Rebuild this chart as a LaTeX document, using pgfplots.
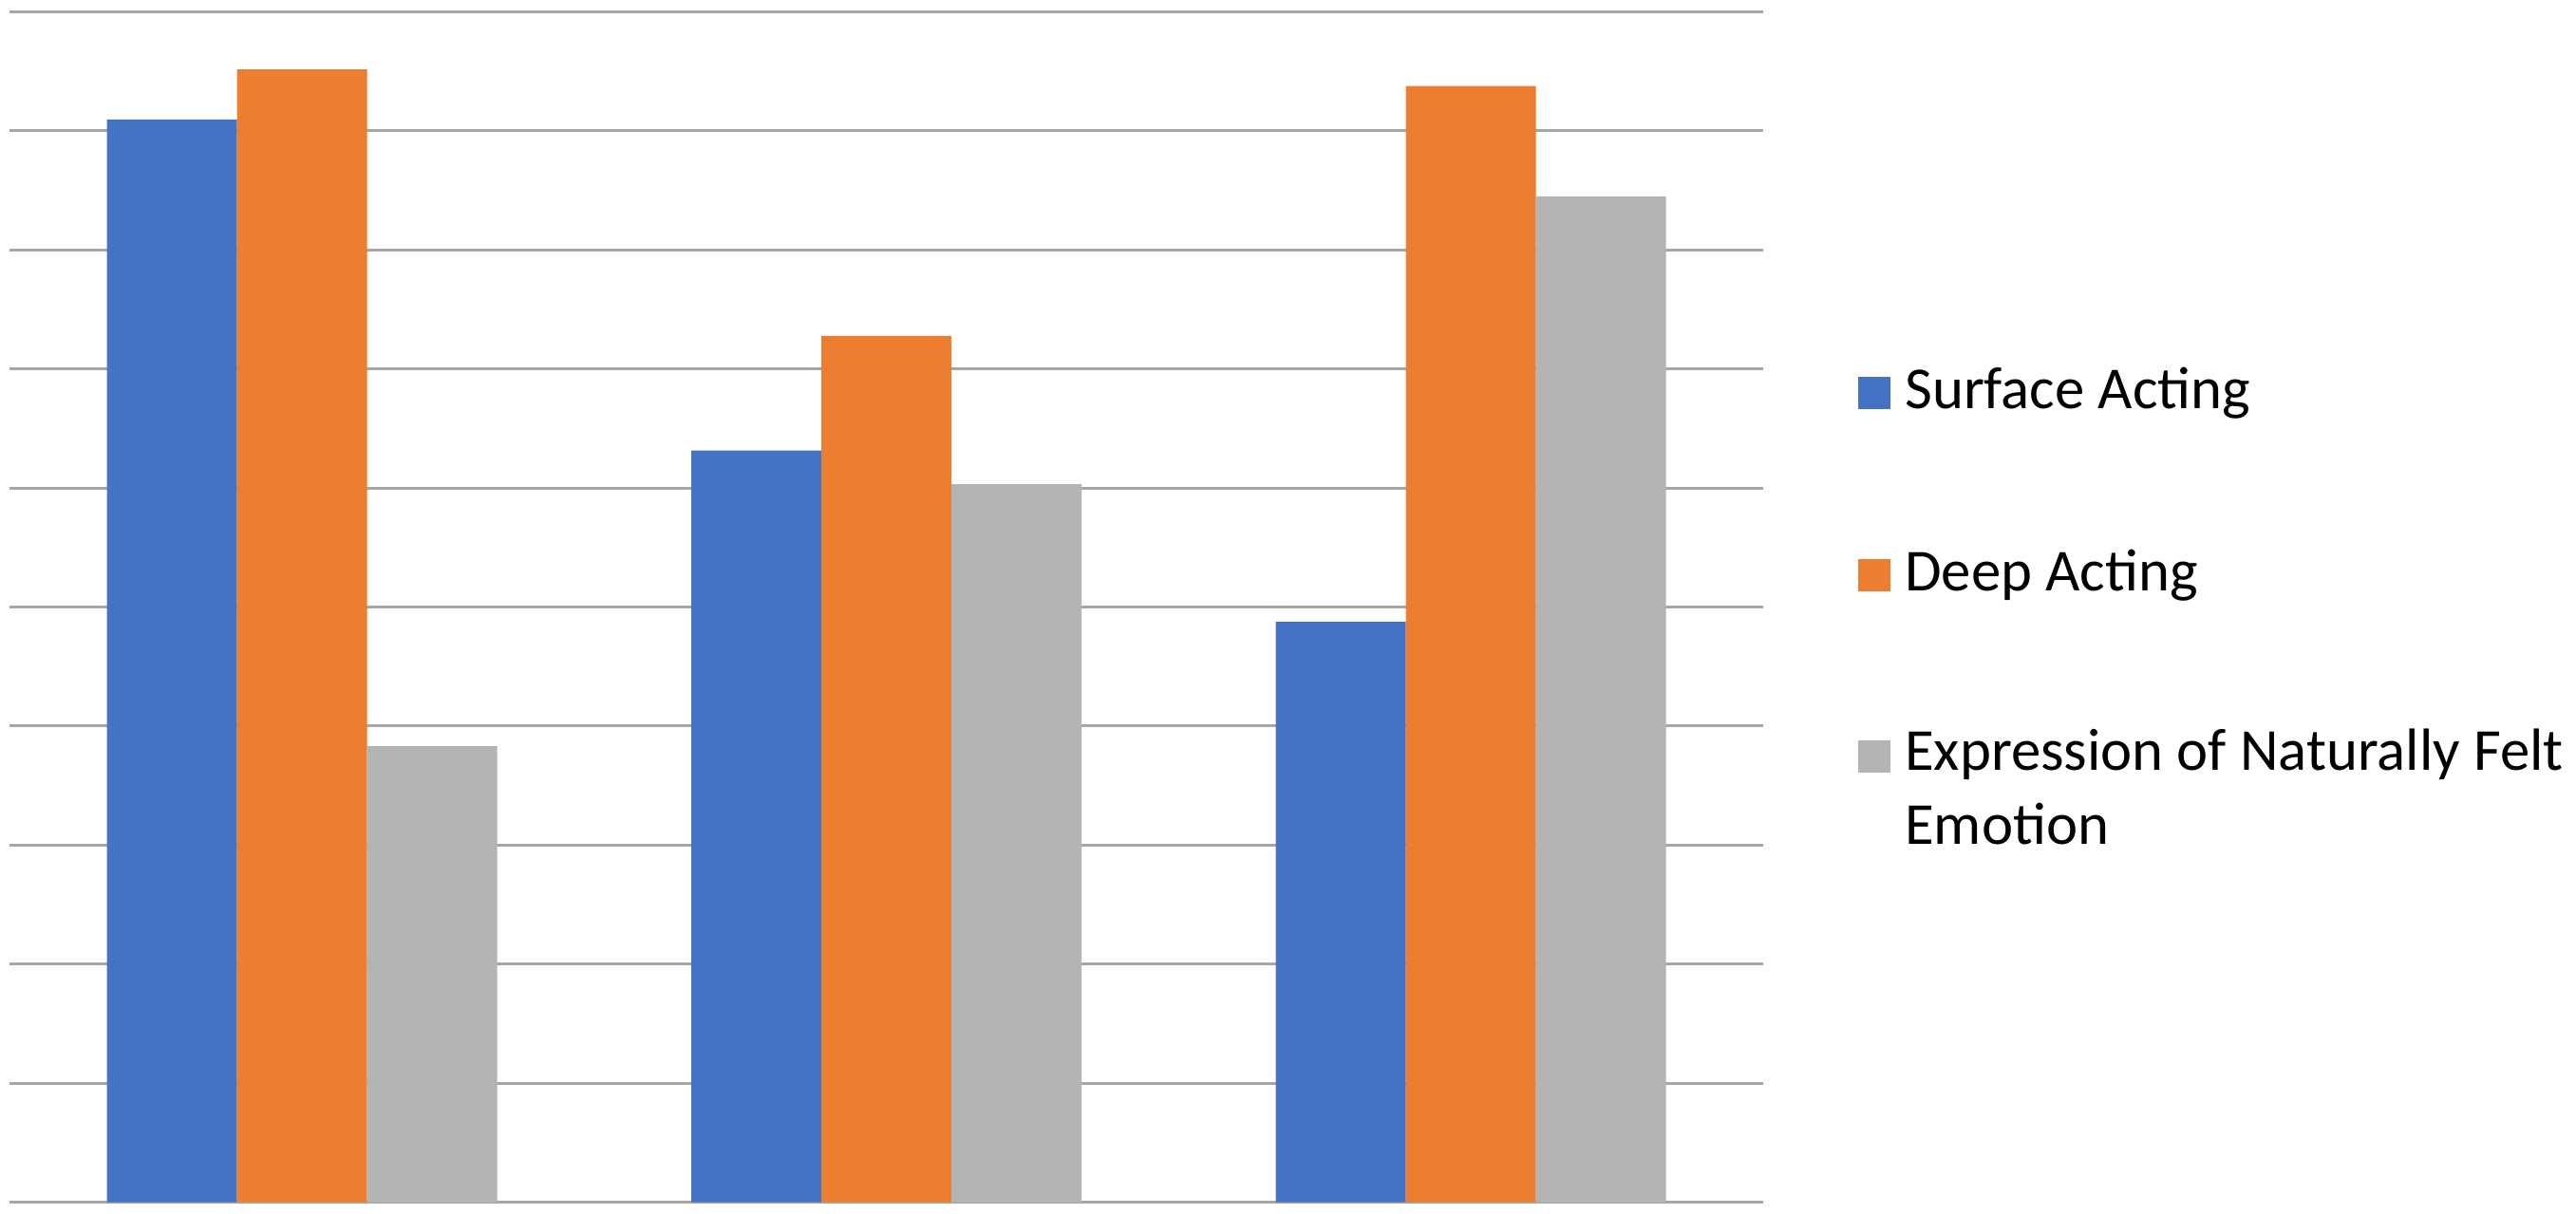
\documentclass[border=0pt]{standalone}
\usepackage{pgfplots}
\pgfplotsset{compat=1.18}
\usepackage{pgfplotstable}
\usepackage{fontspec}
\setmainfont{Carlito}
\definecolor{sblue}{HTML}{4472C4}
\definecolor{sorange}{HTML}{ED7D31}
\definecolor{sgray}{HTML}{B4B4B4}
\definecolor{gridc}{HTML}{A6A6A6}
\pgfplotstableread{
x surface deep natural
0 9.094 9.516 3.832
1 6.314 7.278 6.032
2 4.876 9.375 8.448
}\datatable
\pgfplotsset{
  /pgfplots/ybar legend/.style={
    /pgfplots/legend image code/.code={\fill[##1] (0pt,-2.5pt) rectangle (5pt,2.5pt);}
  }
}
\begin{document}
\begin{tikzpicture}
\useasboundingbox (-1.52pt,-1.81pt) rectangle (398.48pt,186.76pt);
\begin{axis}[
  scale only axis, width=272.25pt, height=184.95pt,
  xmin=-0.5, xmax=2.5, ymin=0, ymax=10,
  axis line style={draw=none},
  xtick=\empty, ytick={0,1,...,10}, yticklabels={}, major tick length=0pt,
  ymajorgrids, grid style={draw=gridc, line width=0.45pt},
  ybar, bar width=0.2226,
  legend style={draw=none, fill=none, at={(1.0545,0.528)}, anchor=west,
    inner sep=0pt, outer sep=0pt, row sep=20.45pt, column sep=2.2pt,
    font=\fontsize{9.25}{11.4}\selectfont, nodes={inner sep=0pt}},
  legend cell align=left,
]
\addplot[fill=sblue, draw=none, bar shift=-0.2226] table[x=x,y=surface]{\datatable};
\addplot[fill=sorange, draw=none, bar shift=0] table[x=x,y=deep]{\datatable};
\addplot[fill=sgray, draw=none, bar shift=0.2226] table[x=x,y=natural]{\datatable};
\legend{{\vphantom{Ap}Surface Acting},{\vphantom{Ap}Deep Acting},{\vphantom{Ap}\smash{\begin{tabular}[t]{@{}l@{}}Expression of Naturally Felt\\Emotion\end{tabular}}}}
\end{axis}
\end{tikzpicture}
\end{document}
